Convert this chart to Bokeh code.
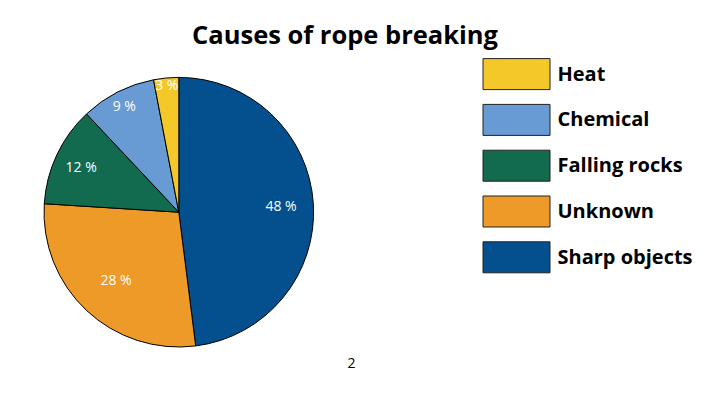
import math
from bokeh.plotting import figure
from bokeh.models import Range1d, ColumnDataSource
from bokeh.core.properties import value
from bokeh.embed import file_html
from bokeh.resources import INLINE

# ---- data ----
categories = ["Sharp objects", "Unknown", "Falling rocks", "Chemical", "Heat"]
percents = [48, 28, 12, 9, 3]
colors = ["#04508F", "#EE9A28", "#126B4F", "#689BD4", "#F5C82A"]
legend_order = ["Heat", "Chemical", "Falling rocks", "Unknown", "Sharp objects"]
title_text = "Causes of rope breaking"
page_number = "2"

W, H = 726, 398
p = figure(width=W, height=H, output_backend="svg", toolbar_location=None,
           x_range=Range1d(0, W), y_range=Range1d(0, H),
           min_border=0, outline_line_color=None)
p.axis.visible = False
p.grid.visible = False
p.background_fill_color = "white"
p.border_fill_color = "white"

def Y(y):
    return H - y

cx, cy, R = 178.3, Y(211.7), 134.8
total = float(sum(percents))
starts, ends, mids = [], [], []
cum = 0.0
for v in percents:
    a0 = math.pi / 2 - 2 * math.pi * cum / total
    cum += v
    a1 = math.pi / 2 - 2 * math.pi * cum / total
    starts.append(a0); ends.append(a1); mids.append((a0 + a1) / 2)

src = ColumnDataSource(dict(start=starts, end=ends, color=colors, cat=categories))
p.wedge(x=cx, y=cy, radius=R, start_angle="start", end_angle="end",
        direction="clock", fill_color="color", line_color="black",
        line_width=1, source=src)

# label placement (layout factors, not data)
label_r = [0.76, 0.68, 0.80, 0.89, 0.95]
lx = [cx + R * f * math.cos(m) for f, m in zip(label_r, mids)]
ly = [cy + R * f * math.sin(m) for f, m in zip(label_r, mids)]
labels = [f"{v} %" for v in percents]
p.text(x=lx, y=ly, text=labels, text_color="white", text_align="center",
       text_baseline="middle", text_font=value("Open Sans"),
       text_font_size="14px")

# title
p.text(x=[344.5], y=[Y(33)], text=[title_text], text_align="center",
       text_baseline="middle", text_font=value("Open Sans"),
       text_font_style="bold", text_font_size="25.5px", text_color="black")

# legend
color_of = dict(zip(categories, colors))
leg_colors = [color_of[c] for c in legend_order]
box_y = [Y(73.6 + 45.8 * i) for i in range(len(legend_order))]
p.rect(x=[516] * len(legend_order), y=box_y, width=67, height=31,
       fill_color=leg_colors, line_color="#222222", line_width=1)
p.text(x=[557] * len(legend_order), y=[y + 1 for y in box_y], text=legend_order,
       text_align="left", text_baseline="middle",
       text_font=value("Open Sans"), text_font_style="bold",
       text_font_size="20px", text_color="black")

# page number
p.text(x=[351], y=[Y(362)], text=[page_number], text_align="center",
       text_baseline="middle", text_font=value("Open Sans"),
       text_font_size="14px", text_color="black")

open("out.html", "w").write(file_html(p, INLINE))
